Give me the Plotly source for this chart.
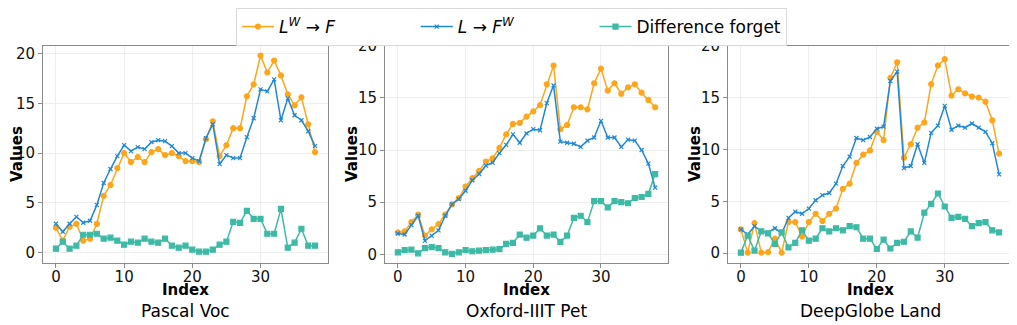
import plotly.graph_objects as go

# x positions (index 0..38) shared by all panels
index = list(range(39))

titles = ['Pascal Voc', 'Oxford-IIIT Pet', 'DeepGlobe Land']
pad = '\u00a0' * 14
series_names = ['<i>L</i><sup><i>W</i></sup> → <i>F</i>' + pad,
                '<i>L</i> → <i>F</i><sup><i>W</i></sup>' + pad,
                'Difference forget']

# Pascal Voc
pascal_lw_f = [2.5, 1.2, 2.6, 2.9, 1.2, 1.4, 2.9, 5.7, 6.8, 8.5, 10.0, 9.1, 9.6, 9.1, 10.1, 10.4, 9.8, 10.0, 9.7, 9.2,
               9.2, 9.1, 11.4, 13.2, 9.7, 10.8, 12.5, 12.5, 15.7, 16.9, 19.8, 18.1, 19.3, 17.8, 15.9, 14.8, 15.6, 12.9, 10.1]
pascal_l_fw = [2.9, 2.1, 2.9, 3.6, 3.0, 3.2, 4.8, 7.0, 8.4, 9.7, 10.8, 10.2, 10.6, 10.4, 11.1, 11.3, 11.2, 10.7, 10.0, 10.0,
               9.5, 9.2, 11.5, 12.9, 8.9, 9.8, 9.5, 9.5, 11.6, 13.5, 16.4, 16.2, 17.4, 13.3, 15.5, 13.8, 13.3, 12.2, 10.7]
pascal_diff = [0.4, 1.1, 0.4, 0.7, 1.8, 1.8, 1.9, 1.4, 1.5, 1.2, 0.8, 1.1, 1.0, 1.4, 1.1, 1.0, 1.4, 0.7, 0.5, 0.7,
               0.3, 0.1, 0.1, 0.3, 0.8, 1.1, 3.1, 3.0, 4.2, 3.4, 3.4, 1.9, 1.9, 4.4, 0.5, 1.0, 2.4, 0.7, 0.7]

# Oxford-IIIT Pet
oxford_lw_f = [2.1, 2.2, 3.1, 3.8, 1.8, 2.4, 2.9, 3.8, 4.8, 5.4, 6.5, 7.3, 8.0, 8.9, 9.2, 10.2, 11.5, 12.5, 12.6, 13.2,
               13.7, 14.3, 16.3, 18.1, 12.0, 12.4, 14.1, 14.1, 13.9, 16.4, 17.8, 15.7, 16.4, 15.4, 16.0, 16.3, 15.5, 14.8, 14.1]
oxford_l_fw = [2.0, 1.9, 2.8, 3.7, 1.3, 1.8, 2.3, 3.7, 4.8, 5.3, 6.1, 7.1, 7.7, 8.5, 8.8, 9.7, 10.5, 11.5, 10.7, 11.6,
               12.0, 11.9, 14.5, 16.2, 10.8, 10.7, 10.6, 10.3, 10.9, 11.2, 12.8, 11.2, 11.2, 10.3, 11.0, 10.9, 10.0, 8.7, 6.4]
oxford_diff = [0.2, 0.4, 0.45, 0.1, 0.6, 0.7, 0.6, 0.2, 0.05, 0.2, 0.4, 0.3, 0.35, 0.4, 0.45, 0.5, 1.0, 1.1, 1.9, 1.6,
               1.8, 2.5, 1.8, 1.9, 1.2, 1.8, 3.5, 3.7, 3.1, 5.1, 5.1, 4.5, 5.1, 5.0, 4.9, 5.4, 5.5, 5.8, 7.7]

# DeepGlobe Land
deepglobe_lw_f = [2.3, 0.05, 2.9, 0.05, 0.1, 1.4, 0.05, 3.0, 3.0, 1.6, 3.0, 3.8, 3.1, 3.8, 4.3, 6.2, 6.7, 8.7, 9.5, 9.9,
                  11.7, 10.9, 16.9, 18.4, 9.2, 10.5, 12.1, 12.6, 16.3, 18.1, 18.7, 15.2, 15.8, 15.4, 15.1, 15.0, 14.6, 12.8, 9.6]
deepglobe_l_fw = [2.3, 1.8, 2.6, 2.1, 2.0, 2.4, 1.9, 3.4, 4.0, 3.8, 4.3, 5.1, 5.6, 5.8, 6.7, 8.4, 9.3, 11.1, 10.9, 11.2,
                  12.0, 12.2, 16.6, 17.5, 8.2, 8.4, 10.5, 8.7, 11.6, 12.3, 14.2, 11.9, 12.3, 12.1, 12.5, 12.1, 11.7, 10.6, 7.6]
deepglobe_diff = [0.05, 1.7, 0.25, 2.1, 1.9, 0.9, 2.0, 0.55, 1.0, 2.2, 1.2, 1.4, 2.4, 2.1, 2.4, 2.2, 2.6, 2.5, 1.4, 1.4,
                  0.4, 1.3, 0.45, 1.0, 1.1, 2.1, 1.5, 3.9, 4.75, 5.75, 4.5, 3.4, 3.5, 3.3, 2.6, 2.9, 3.0, 2.2, 2.0]

panels = [
    (pascal_lw_f, pascal_l_fw, pascal_diff),
    (oxford_lw_f, oxford_l_fw, oxford_diff),
    (deepglobe_lw_f, deepglobe_l_fw, deepglobe_diff),
]

# page body has an 8px margin, so the figure is drawn 8px in from the window corner
OFF = 8
W, H = 1017 - OFF, 325 - OFF
colors = ['#FFA51A', '#1F88D8', '#3DBAA6']
symbols = ['circle', 'x-thin-open', 'square']
msizes = [5, 4, 5]

# plot area boxes in window pixels (left, right), shared top/bottom
x_px = [(43, 328), (385, 668), (728, 1012)]
y_top, y_bot = 45.7, 262.5
y_ranges = [[-0.99, 20.79], [-0.78, 20.0], [-0.9, 20.0]]
values_x = [17, 352, 695]


def px(x):
    return (x - OFF) / W


def py(y):
    return 1 - (y - OFF) / H


font = 'DejaVu Sans, sans-serif'
fig = go.Figure()

for p, data in enumerate(panels):
    xa = 'x' if p == 0 else f'x{p+1}'
    ya = 'y' if p == 0 else f'y{p+1}'
    for s in range(3):
        fig.add_trace(go.Scatter(
            x=index, y=data[s], mode='lines+markers', name=series_names[s],
            xaxis=xa, yaxis=ya, showlegend=(p == 0),
            line=dict(color=colors[s], width=1.5),
            marker=dict(color=colors[s], symbol=symbols[s], size=msizes[s],
                        line=dict(color=colors[s], width=1.2)),
        ))

    axis_common = dict(showline=True, mirror=True, linecolor='#8a8a8a', linewidth=1,
                       ticks='outside', ticklen=4, tickcolor='#8a8a8a', automargin=False,
                       showgrid=True, gridcolor='#eeeeee', zeroline=False,
                       tickfont=dict(family=font, size=15, color='#111111'))
    key = '' if p == 0 else str(p + 1)
    fig.update_layout(**{
        f'xaxis{key}': dict(domain=[px(x_px[p][0]), px(x_px[p][1])], range=[-1.9, 39.9],
                            tickvals=[0, 10, 20, 30], anchor=ya, ticklabelstandoff=-4, **axis_common),
        f'yaxis{key}': dict(domain=[py(y_bot), py(y_top)], range=y_ranges[p],
                            tickvals=[0, 5, 10, 15, 20], anchor=xa, **axis_common),
    })

    cx = px((x_px[p][0] + x_px[p][1]) / 2)
    fig.add_annotation(text='<b>Index</b>', x=cx, y=py(290), xref='paper', yref='paper',
                       xanchor='center', yanchor='middle', showarrow=False,
                       font=dict(family=font, size=15, color='black'))
    fig.add_annotation(text=titles[p], x=cx, y=py(311), xref='paper', yref='paper',
                       xanchor='center', yanchor='middle', showarrow=False,
                       font=dict(family=font, size=17, color='black'))
    fig.add_annotation(text='<b>Values</b>', x=px(values_x[p]), y=py(154), xref='paper', yref='paper',
                       xanchor='center', yanchor='middle', showarrow=False, textangle=-90,
                       font=dict(family=font, size=15, color='black'))

fig.update_layout(
    width=W, height=H,
    margin=dict(l=0, r=0, t=0, b=0),
    paper_bgcolor='white', plot_bgcolor='white',
    font=dict(family=font, color='black'),
    legend=dict(orientation='h', x=px(511.5), xanchor='center', y=1, yanchor='top',
                font=dict(family=font, size=17, color='black'),
                bordercolor='#d9d9d9', borderwidth=1, bgcolor='white',
                itemwidth=32, tracegroupgap=0),
)

fig.write_html("out.html")
